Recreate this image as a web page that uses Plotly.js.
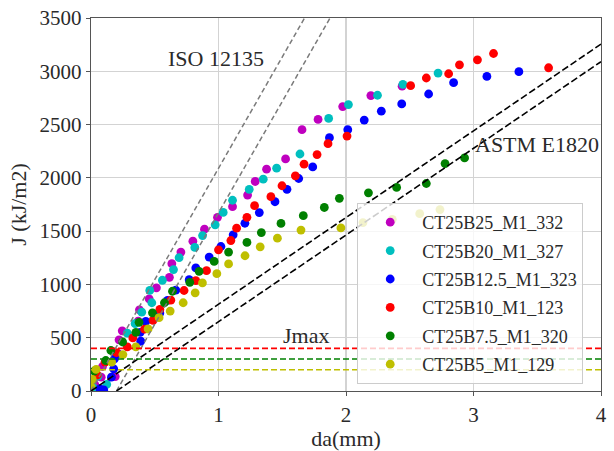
<!DOCTYPE html>
<html>
<head>
<meta charset="utf-8">
<script src="https://cdn.plot.ly/plotly-3.0.1.min.js"></script>
<style>html,body{margin:0;padding:0;background:#fff}#chart{width:614px;height:451px}</style>
</head>
<body>
<div id="chart"></div>
<script>
// ---- data ----
const seriesNames = ["CT25B25_M1_332", "CT25B20_M1_327", "CT25B12.5_M1_323", "CT25B10_M1_123", "CT25B7.5_M1_320", "CT25B5_M1_129"];

const b25X = [0.03, 0.08, 0.09, 0.19, 0.22, 0.245, 0.37, 0.38, 0.456, 0.513, 0.615, 0.634, 0.705, 0.799, 0.89, 0.992, 1.11, 1.228, 1.288, 1.377, 1.526, 1.655, 1.781, 1.974, 2.195, 2.44];
const b25Y = [60, 130, 230, 135, 480, 565, 655, 762, 865, 968, 1067, 1195, 1304, 1406, 1518, 1630, 1730, 1839, 1966, 2081, 2178, 2452, 2548, 2669, 2772, 2860];

const b20X = [0.02, 0.055, 0.123, 0.285, 0.346, 0.398, 0.477, 0.461, 0.56, 0.647, 0.691, 0.814, 0.875, 0.974, 1.037, 1.11, 1.241, 1.351, 1.456, 1.639, 1.864, 2.019, 2.247, 2.446, 2.722];
const b20Y = [30, 140, 62, 544, 632, 740, 828, 944, 1039, 1139, 1251, 1347, 1458, 1559, 1676, 1790, 1892, 1988, 2091, 2224, 2558, 2688, 2775, 2878, 2983];

const b125X = [0.07, 0.1, 0.16, 0.178, 0.184, 0.21, 0.39, 0.386, 0.43, 0.54, 0.6, 0.665, 0.77, 0.822, 0.927, 1.019, 1.115, 1.207, 1.32, 1.443, 1.537, 1.629, 1.739, 1.87, 2.014, 2.143, 2.277, 2.437, 2.648, 2.844, 3.105, 3.356];
const b125Y = [20, 10, 130, 208, 302, 350, 467, 551, 653, 731, 850, 946, 1045, 1155, 1257, 1356, 1465, 1574, 1674, 1776, 1892, 1994, 2103, 2377, 2452, 2542, 2626, 2694, 2787, 2893, 2952, 2996];

const b10X = [0.05, 0.11, 0.2, 0.285, 0.328, 0.42, 0.487, 0.54, 0.626, 0.73, 0.822, 0.906, 1.0, 1.097, 1.142, 1.223, 1.283, 1.411, 1.498, 1.603, 1.671, 1.773, 1.859, 2.008, 2.507, 2.63, 2.805, 2.89, 3.031, 3.157, 3.589];
const b10Y = [150, 271, 360, 414, 498, 580, 663, 765, 852, 943, 1036, 1129, 1325, 1412, 1528, 1630, 1739, 1823, 1926, 2019, 2128, 2218, 2321, 2392, 2865, 2937, 2977, 3061, 3108, 3167, 3033];

const b75X = [0.025, 0.116, 0.156, 0.248, 0.352, 0.377, 0.482, 0.576, 0.639, 0.775, 0.848, 0.966, 1.079, 1.223, 1.336, 1.49, 1.665, 1.83, 1.948, 2.176, 2.397, 2.63, 2.777, 2.93];
const b75Y = [187, 286, 380, 460, 551, 644, 734, 828, 936, 1020, 1123, 1216, 1304, 1394, 1487, 1572, 1645, 1722, 1808, 1860, 1910, 1947, 2134, 2187];

const b5X = [0.0, 0.01, 0.04, 0.162, 0.25, 0.352, 0.448, 0.534, 0.621, 0.723, 0.817, 0.874, 0.987, 1.079, 1.208, 1.327, 1.462, 1.647, 1.96, 2.133, 2.363, 2.578, 2.737];
const b5Y = [40, 109, 202, 271, 342, 414, 582, 688, 750, 828, 921, 1014, 1101, 1192, 1269, 1353, 1434, 1510, 1530, 1580, 1611, 1664, 1702];

// construction lines (end points)
const iso1X = [0, 1.675], iso1Y = [0, 3500];
const iso2X = [0.2, 1.875], iso2Y = [0, 3500];
const astm1X = [0, 4], astm1Y = [0, 3255];
const astm2X = [0.2, 4], astm2Y = [0, 3090];
const jmaxX = [0, 4];
const jmaxLevels = [400, 300, 200];

const xTicks = [0, 1, 2, 3, 4];
const yTicks = [0, 500, 1000, 1500, 2000, 2500, 3000, 3500];

// ---- styling ----
const colors = ["#bf00bf", "#00bfbf", "#0000ff", "#ff0000", "#008000", "#bfbf00"];
const jmaxColors = ["#ff0000", "#008000", "#bfbf00"];
const FONT = "Liberation Serif, Times New Roman, serif";

const xs = [b25X, b20X, b125X, b10X, b75X, b5X];
const ys = [b25Y, b20Y, b125Y, b10Y, b75Y, b5Y];

const traces = [];
seriesNames.forEach((n, i) => {
  traces.push({
    type: "scatter", mode: "markers", name: n, x: xs[i], y: ys[i],
    legendgroup: "g" + i,
    marker: {color: colors[i], size: 8.8, line: {width: 0}}
  });
});
function dline(x, y, color, width, dash) {
  return {type: "scatter", mode: "lines", x: x, y: y, showlegend: false, hoverinfo: "skip",
          line: {color: color, width: width, dash: dash}};
}
traces.push(dline(iso1X, iso1Y, "#7a7a7a", 1.5, "5px,3px"));
traces.push(dline(iso2X, iso2Y, "#7a7a7a", 1.5, "5px,3px"));
traces.push(dline(astm1X, astm1Y, "#000000", 1.6, "7px,3px"));
traces.push(dline(astm2X, astm2Y, "#000000", 1.6, "7px,3px"));
jmaxLevels.forEach((v, i) => {
  traces.push(dline(jmaxX, [v, v], jmaxColors[i], 1.6, "6px,3px"));
});

const axisCommon = {
  showgrid: true, gridcolor: "#d3d3d3", gridwidth: 1.2,
  zeroline: false, showline: true, linecolor: "#555", linewidth: 1.3, mirror: true,
  ticks: "outside", ticklen: 4, tickcolor: "#555",
  tickfont: {family: FONT, size: 21, color: "#2a2a2a"}
};

const layout = {
  width: 614, height: 451,
  margin: {l: 91, r: 13, t: 18, b: 60},
  paper_bgcolor: "#fff", plot_bgcolor: "#fff",
  showlegend: true,
  xaxis: Object.assign({}, axisCommon, {
    range: [0, 4], tickvals: xTicks, ticktext: xTicks.map(String),
    title: {text: "da(mm)", font: {family: FONT, size: 22, color: "#2a2a2a"}, standoff: 10}
  }),
  yaxis: Object.assign({}, axisCommon, {
    range: [0, 3500], tickvals: yTicks, ticktext: yTicks.map(String),
    title: {text: "J (kJ/m2)", font: {family: FONT, size: 22, color: "#2a2a2a"}, standoff: 6}
  }),
  legend: {
    x: 0.522, y: 0.504, xanchor: "left", yanchor: "top",
    bgcolor: "rgba(255,255,255,0.8)", bordercolor: "#cccccc", borderwidth: 1,
    font: {family: FONT, size: 18, color: "#2a2a2a"},
    tracegroupgap: 2, itemwidth: 54
  },
  annotations: [
    {x: 0.982, y: 3117, xref: "x", yref: "y", text: "ISO 12135", showarrow: false,
     font: {family: FONT, size: 22, color: "#2a2a2a"}},
    {x: 3.50, y: 2315, xref: "x", yref: "y", text: "ASTM E1820", showarrow: false,
     font: {family: FONT, size: 22, color: "#2a2a2a"}},
    {x: 1.69, y: 523, xref: "x", yref: "y", text: "Jmax", showarrow: false,
     font: {family: FONT, size: 22, color: "#2a2a2a"}}
  ]
};

Plotly.newPlot("chart", traces, layout, {staticPlot: true, displayModeBar: false});
</script>
</body>
</html>
